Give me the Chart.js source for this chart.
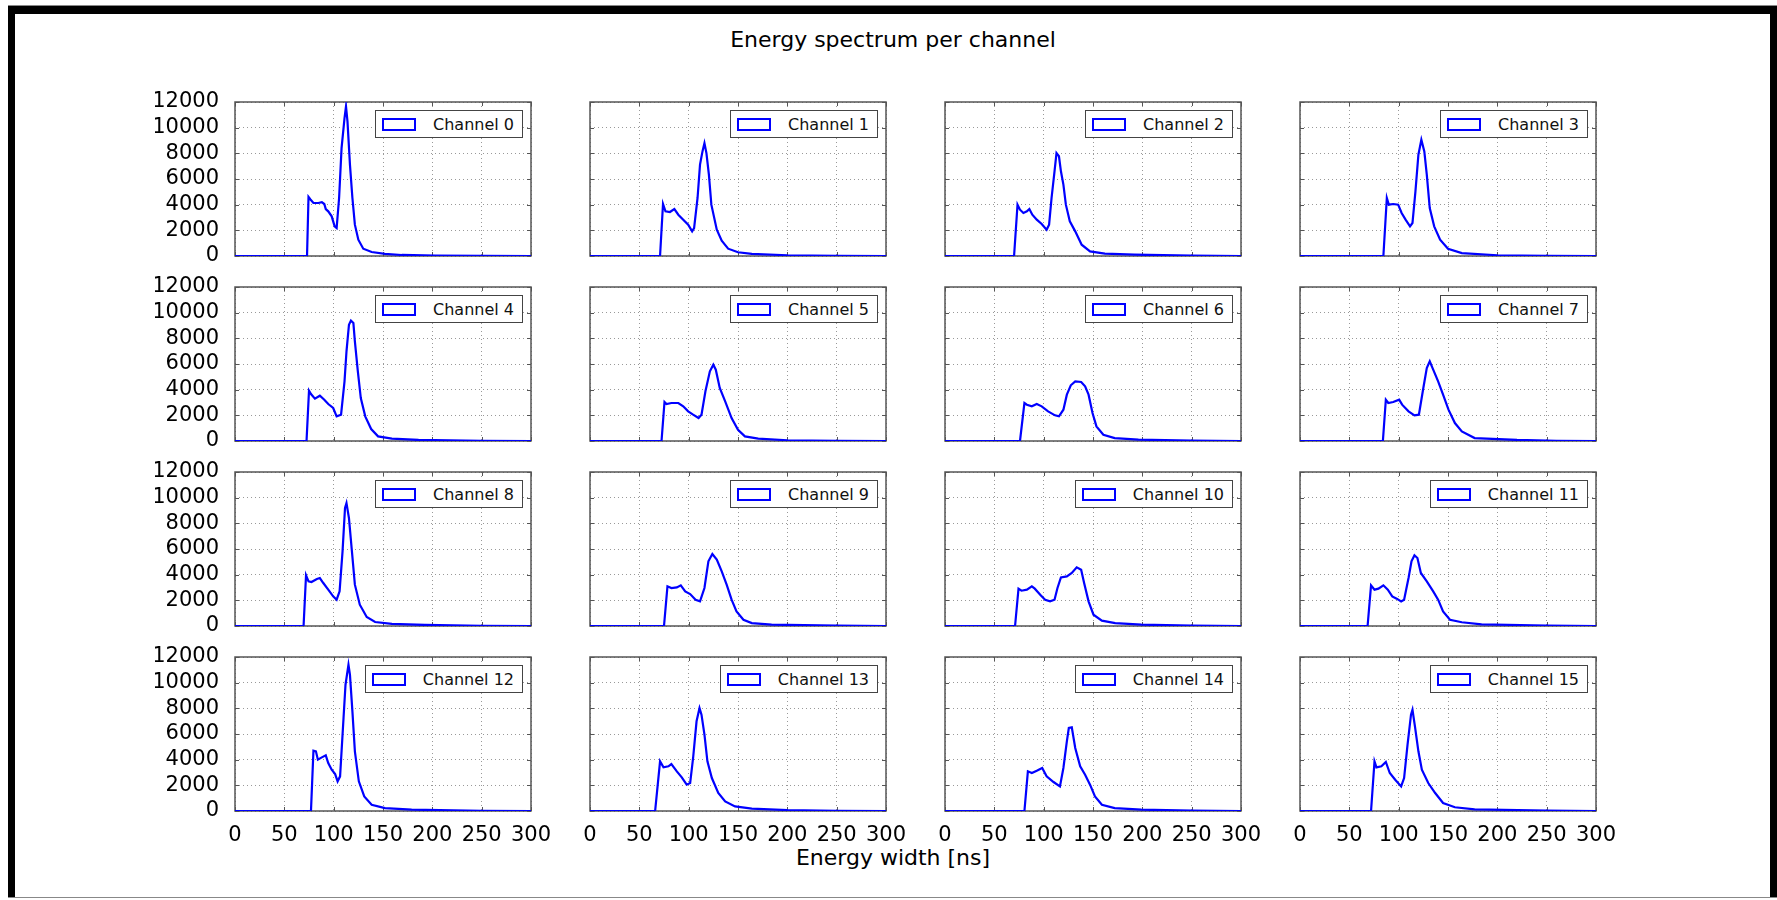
<!DOCTYPE html>
<html>
<head>
<meta charset="utf-8">
<title>Energy spectrum per channel</title>
<script src="https://cdn.jsdelivr.net/npm/chart.js@4.4.1/dist/chart.umd.min.js"></script>
<style>
  html, body { margin: 0; padding: 0; background: #fff; }
  body { width: 1777px; height: 900px; position: relative; overflow: hidden; font-family: "DejaVu Sans", sans-serif; }
  #frame { position: absolute; left: 8px; top: 6px; width: 1769px; height: 892px; box-sizing: border-box;
           border-top: 8px solid #000; border-left: 7px solid #000; border-right: 7px solid #000; }
  .edge { position: absolute; left: 8px; width: 1769px; height: 1px; background: #888; }
  .label { position: absolute; left: 0; width: 1786px; text-align: center; font-size: 22px; line-height: 22px; color: #000; }
  .panel { position: absolute; }
  .legend { position: absolute; height: 26px; display: flex; align-items: center; background: #fff;
            border: 1.5px solid #444; padding: 0 8px 0 6px; font-size: 16px; color: #111; white-space: nowrap; }
  .legend .patch { display: inline-block; width: 30px; height: 9px; border: 2px solid #0000ff; margin-right: 17px; }
</style>
</head>
<body>
<div class="edge" style="top:5px"></div>
<div id="frame"></div>
<div class="edge" style="top:897px"></div>
<div class="label" style="top:29px">Energy spectrum per channel</div>
<div class="label" style="top:847px">Energy width [ns]</div>

<script>
// Histogram outlines per channel: [width in ns, counts]
const channel0 = [[0,0],[73,0],[74.5,4600],[76.5,4400],[79.5,4130],[84.5,4130],[88,4200],[90.5,4050],[92,3660],[94.5,3480],[98,3090],[101,2310],[103,2180],[105.5,4520],[108,8400],[111,10750],[112.5,11660],[114,10490],[116.5,7120],[119,4520],[121.5,2440],[125,1270],[130,570],[138.5,310],[152,160],[169,80],[203,30],[300,0]];
const channel1 = [[0,0],[71,0],[74,4050],[76.5,3480],[81,3430],[85.5,3660],[89.5,3220],[94.5,2830],[99.5,2440],[103.5,1920],[105.5,2180],[109,4520],[111.5,7120],[114,8150],[116,8800],[118,8020],[120.5,6340],[123,4000],[128.5,2050],[133.5,1190],[140,570],[150,290],[164,160],[200,60],[250,20],[300,0]];
const channel2 = [[0,0],[70,0],[73.5,4000],[76,3610],[79.5,3350],[83,3480],[85.5,3660],[88.5,3220],[93,2830],[98,2490],[103,2050],[105.5,2440],[108,4520],[111,6600],[113,8020],[115.5,7770],[117.5,6600],[120,5560],[122.5,4000],[126.5,2700],[132,1920],[138.5,880],[147,360],[162,180],[192,100],[250,30],[300,0]];
const channel3 = [[0,0],[84.5,0],[88,4520],[90,4000],[94.5,4050],[99.5,4000],[103,3350],[107,2830],[111.5,2310],[114,2570],[117,5040],[120,7890],[123,9060],[126,8150],[128.5,6340],[131.5,3740],[136,2310],[142,1270],[150,570],[164,230],[200,60],[250,20],[300,0]];
const channel4 = [[0,0],[72.5,0],[75,3920],[77,3660],[81,3300],[86,3530],[90.5,3220],[94.5,2880],[99.5,2570],[103,1920],[107.5,2050],[111,4650],[113,6990],[115.5,9060],[117.5,9380],[120,9190],[121.5,7760],[124.5,5430],[127.5,3350],[132,1920],[138,930],[145,360],[159,180],[186,80],[250,20],[300,0]];
const channel5 = [[0,0],[72.5,0],[75.5,3040],[77.5,2880],[82.5,2960],[89.5,2960],[94.5,2700],[99.5,2310],[104.5,2050],[110,1790],[113,2050],[117,3870],[121.5,5430],[125,5950],[127.5,5560],[131.5,4130],[137,3090],[143.5,1790],[150,880],[157,360],[170.5,180],[200,60],[250,20],[300,0]];
const channel6 = [[0,0],[76,0],[80.5,2960],[83,2830],[88,2700],[93,2880],[98,2700],[104.5,2310],[111.5,2000],[115.5,1920],[120,2440],[123.5,3610],[127.5,4340],[132,4650],[138,4600],[142,4260],[145.5,3610],[149.5,2180],[153.5,1140],[160.5,490],[172,230],[196,100],[250,30],[300,0]];
const channel7 = [[0,0],[84,0],[87,3220],[89.5,2960],[94.5,3040],[100.5,3220],[103.5,2830],[110,2310],[116,2000],[120.5,2050],[125,4130],[128.5,5690],[131.5,6210],[135,5560],[140,4650],[145,3610],[150.5,2440],[157,1400],[164,750],[177,230],[220,80],[260,20],[300,0]];
const channel8 = [[0,0],[69.5,0],[72,3950],[74.5,3480],[77.5,3430],[83,3660],[86,3740],[89.5,3350],[94.5,2830],[99.5,2310],[103,2050],[106,2700],[109,5820],[111.5,9190],[113,9580],[115.5,8410],[118.5,5820],[121.5,3220],[126.5,1660],[133.5,700],[142,310],[159,160],[192.5,80],[250,20],[300,0]];
const channel9 = [[0,0],[75,0],[78.5,3090],[82.5,2960],[88,3010],[92,3170],[96.5,2700],[101.5,2490],[107,2050],[111.5,1920],[116,2960],[120,5040],[124,5610],[128.5,5170],[133.5,4260],[138.5,3220],[143.5,2050],[148.5,1140],[155.5,490],[164,230],[184,100],[250,30],[300,0]];
const channel10 = [[0,0],[71,0],[74.5,2910],[77.5,2750],[83,2830],[88,3090],[91,2910],[96.5,2440],[101.5,2050],[106.5,1920],[111,2050],[114,2960],[117.5,3790],[123.5,3870],[128.5,4130],[133.5,4570],[138,4390],[141,3350],[145.5,1920],[150.5,880],[159,420],[172.5,230],[199,100],[250,30],[300,0]];
const channel11 = [[0,0],[68.5,0],[72,3170],[75.5,2830],[79.5,2910],[84.5,3170],[89,2830],[93.5,2310],[98,2130],[102.5,1920],[105.5,2050],[110,3740],[113,5040],[116,5510],[119,5300],[122.5,4130],[128.5,3480],[135,2700],[140,2050],[145,1140],[152,490],[164,290],[184,130],[250,30],[300,0]];
const channel12 = [[0,0],[77,0],[79.5,4700],[82,4650],[84,4000],[88,4180],[92,4340],[94.5,3740],[98,3220],[101.5,2880],[104,2310],[106.5,2700],[110,7250],[112,9840],[115,11400],[116.5,10620],[119,7760],[121.5,4650],[125.5,2310],[131,1140],[138.5,490],[152,230],[179,100],[250,20],[300,0]];
const channel13 = [[0,0],[66,0],[71,3870],[74.5,3400],[79.5,3480],[82.5,3660],[88,3090],[93,2620],[98,2050],[101.5,2180],[104.5,4130],[108,6990],[111,8020],[113,7510],[116,5950],[119,3870],[123.5,2570],[130,1400],[137,750],[147,360],[164,180],[200,70],[250,20],[300,0]];
const channel14 = [[0,0],[80.5,0],[84,3090],[88,2960],[93,3140],[98.5,3350],[103,2700],[110,2260],[116.5,1920],[120,3350],[123.5,5430],[125.5,6470],[128.5,6520],[132,4910],[137,3480],[142,2830],[147,2050],[152,1140],[159,490],[172,230],[199,100],[250,30],[300,0]];
const channel15 = [[0,0],[72,0],[75.5,3870],[77.5,3400],[82.5,3480],[87,3820],[91,2960],[96.5,2440],[102.5,1920],[105.5,2570],[109,5170],[112.5,7510],[114,7890],[116.5,6600],[120,4650],[123.5,3220],[130,2180],[137,1400],[145,620],[157,290],[177,130],[250,30],[300,0]];

const channels = [channel0, channel1, channel2, channel3, channel4, channel5, channel6, channel7,
                  channel8, channel9, channel10, channel11, channel12, channel13, channel14, channel15];

const xTicks = [0, 50, 100, 150, 200, 250, 300];
const yTicks = [0, 2000, 4000, 6000, 8000, 10000, 12000];

// grid layout of the 4x4 subplots (plot-area corners in page pixels)
const colLefts = [235, 590, 945, 1300];
const rowTops = [102, 287, 472, 657];
const plotW = 296, plotH = 154;
const padL = 80, padT = 15, padR = 30, padB = 45;

const tickFont = { family: "DejaVu Sans", size: 21 };

// axes frame plus short inward tick marks on all four sides
const axesBox = {
    id: "axesBox",
    beforeDatasetsDraw(chart) {
        const { ctx, chartArea: a, scales } = chart;
        ctx.save();
        ctx.strokeStyle = "#555";
        ctx.lineWidth = 1;
        ctx.beginPath();
        xTicks.forEach(v => {
            const px = Math.round(scales.x.getPixelForValue(v)) + 0.5;
            ctx.moveTo(px, a.bottom); ctx.lineTo(px, a.bottom - 4);
            ctx.moveTo(px, a.top); ctx.lineTo(px, a.top + 4);
        });
        yTicks.forEach(v => {
            const py = Math.round(scales.y.getPixelForValue(v)) + 0.5;
            ctx.moveTo(a.left, py); ctx.lineTo(a.left + 4, py);
            ctx.moveTo(a.right, py); ctx.lineTo(a.right - 4, py);
        });
        ctx.stroke();
        ctx.lineWidth = 1.5;
        ctx.strokeRect(a.left, a.top, a.right - a.left, a.bottom - a.top);
        ctx.restore();
    }
};

// keep every subplot the same size whether or not its tick labels are shown
function fixX(s) {
    s.height = padB;
    s.paddingLeft = 0;
    s.paddingRight = 0;
}
function fixY(s) {
    s.width = padL;
    s.paddingTop = 0;
    s.paddingBottom = 0;
}

function makePanel(idx) {
    const col = idx % 4;
    const row = Math.floor(idx / 4);
    const left = colLefts[col];
    const top = rowTops[row];

    const holder = document.createElement("div");
    holder.className = "panel";
    holder.style.left = (left - padL) + "px";
    holder.style.top = (top - padT) + "px";
    const canvas = document.createElement("canvas");
    canvas.width = plotW + padL + padR;
    canvas.height = plotH + padT + padB;
    holder.appendChild(canvas);
    document.body.appendChild(holder);

    new Chart(canvas, {
        type: "line",
        data: {
            datasets: [{
                label: "Channel " + idx,
                data: channels[idx].map(p => ({ x: p[0], y: p[1] })),
                borderColor: "#0000ff",
                borderWidth: 2.2,
                pointRadius: 0,
                fill: false,
                tension: 0
            }]
        },
        options: {
            responsive: false,
            animation: false,
            events: [],
            layout: { padding: { left: 0, top: padT, right: padR, bottom: 0 } },
            plugins: { legend: { display: false }, tooltip: { enabled: false } },
            scales: {
                x: {
                    type: "linear",
                    min: 0,
                    max: 300,
                    afterFit: fixX,
                    afterBuildTicks: s => { s.ticks = xTicks.map(v => ({ value: v })); },
                    ticks: {
                        display: row === 3,
                        autoSkip: false,
                        maxRotation: 0,
                        padding: 12,
                        color: "#000",
                        font: tickFont,
                        callback: v => String(v)
                    },
                    grid: { color: "#999", lineWidth: 1, drawTicks: false },
                    border: { display: false, dash: [1, 3] }
                },
                y: {
                    min: 0,
                    max: 12000,
                    afterFit: fixY,
                    afterBuildTicks: s => { s.ticks = yTicks.map(v => ({ value: v })); },
                    ticks: {
                        display: col === 0,
                        autoSkip: false,
                        padding: 16,
                        color: "#000",
                        font: tickFont,
                        callback: v => String(v)
                    },
                    grid: { color: "#999", lineWidth: 1, drawTicks: false },
                    border: { display: false, dash: [1, 3] }
                }
            }
        },
        plugins: [axesBox]
    });

    // boxed legend in the upper right corner of each subplot
    const legend = document.createElement("div");
    legend.className = "legend";
    legend.style.right = (1777 - (left + plotW - 8)) + "px";
    legend.style.top = (top + 8) + "px";
    legend.innerHTML = '<span class="patch"></span>Channel ' + idx;
    document.body.appendChild(legend);
}

document.addEventListener("DOMContentLoaded", function () {
    for (let i = 0; i < channels.length; i++) {
        makePanel(i);
    }
});
</script>
</body>
</html>
